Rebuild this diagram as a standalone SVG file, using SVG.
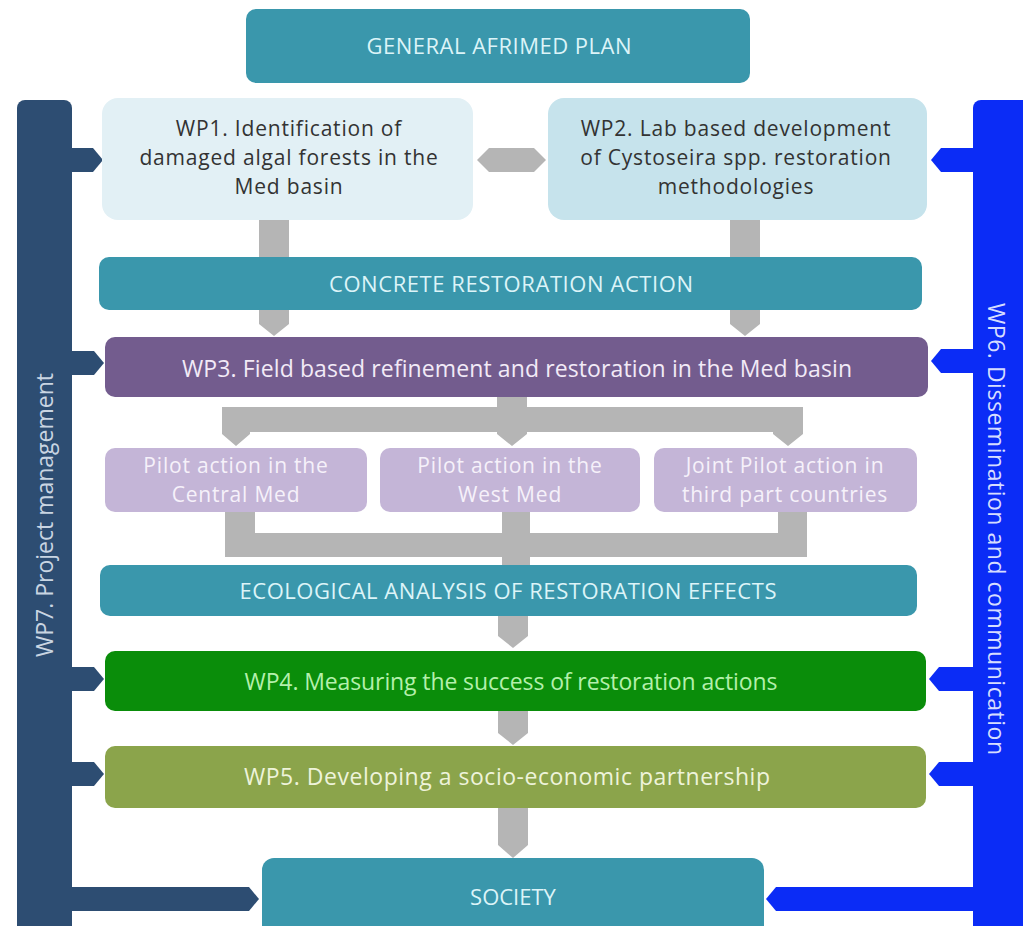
<svg xmlns="http://www.w3.org/2000/svg" width="1023" height="926" viewBox="0 0 1023 926">
<style>
text{font-family:"Open Sans","Liberation Sans",sans-serif;font-size:23px;text-anchor:middle}
.ml{font-size:21px;letter-spacing:0.8px}
.teal{fill:#3a97ac}
.tt{fill:#dcf4f8;font-size:22px}
.gray{fill:#b5b5b5}
.wp7{fill:#2d4d72}
.wp6{fill:#0b2cf6}
.pl{fill:#f6f1fa}
.dk{fill:#333333}
</style>
<rect width="1023" height="926" fill="#ffffff"/>
<g id="wp7">
<rect class="wp7" x="17" y="100" width="55" height="850" rx="8"/>
<polygon class="wp7" points="70,148 93,148 103,160 93,172 70,172"/>
<polygon class="wp7" points="70,351 94,351 104,363 94,375 70,375"/>
<polygon class="wp7" points="70,667 94,667 104,679 94,691 70,691"/>
<polygon class="wp7" points="70,762 94,762 104,774 94,786 70,786"/>
<polygon class="wp7" points="70,887 249,887 259,899 249,911 70,911"/>
<text transform="translate(53,515) rotate(-90)" fill="#c9d5e2" font-size="22" textLength="284" lengthAdjust="spacing">WP7. Project management</text>
</g>
<g id="wp6">
<rect class="wp6" x="973" y="100" width="70" height="850" rx="8"/>
<polygon class="wp6" points="975,148 941,148 931,160 941,172 975,172"/>
<polygon class="wp6" points="975,349 941,349 931,361 941,373 975,373"/>
<polygon class="wp6" points="975,667 939,667 929,679 939,691 975,691"/>
<polygon class="wp6" points="975,762 939,762 929,774 939,786 975,786"/>
<polygon class="wp6" points="975,887 776,887 766,899 776,911 975,911"/>
<text transform="translate(988,529) rotate(90)" fill="#d6ddff" font-size="22" textLength="452" lengthAdjust="spacing">WP6. Dissemination and communication</text>
</g>
<g id="connectors">
<polygon class="gray" points="477,160 489,148 534,148 546,160 534,172 489,172"/>
<rect class="gray" x="259" y="219" width="30" height="40"/>
<polygon class="gray" points="259,309 289,309 289,324 274,336 259,324"/>
<rect class="gray" x="730" y="219" width="30" height="40"/>
<polygon class="gray" points="730,309 760,309 760,324 745,336 730,324"/>
<path class="gray" d="M497,396 H527 V407 H803 V434 L788,446 L773,434 V432 H527 V434 L512,446 L497,434 V432 H250 V434 L236,446 L222,434 V407 H497 Z"/>
<path class="gray" d="M225,510 H255 V533 H502 V510 H530 V533 H778 V510 H807 V557 H530 V566 H502 V557 H225 Z"/>
<polygon class="gray" points="498,615 528,615 528,636 513,648 498,636"/>
<polygon class="gray" points="498,710 528,710 528,733 513,745 498,733"/>
<polygon class="gray" points="498,807 528,807 528,845 513,858 498,845"/>
</g>
<g id="general">
<rect class="teal" x="246" y="9" width="504" height="74" rx="10"/>
<text class="tt" x="499" y="54" textLength="265" lengthAdjust="spacing">GENERAL AFRIMED PLAN</text>
</g>
<g id="wp1">
<rect x="102" y="98" width="371" height="122" rx="16" fill="#e2f0f5"/>
<text class="ml dk" x="289" y="136">WP1. Identification of</text>
<text class="ml dk" x="289" y="165">damaged algal forests in the</text>
<text class="ml dk" x="289" y="194">Med basin</text>
</g>
<g id="wp2">
<rect x="548" y="98" width="379" height="122" rx="16" fill="#c6e3ec"/>
<text class="ml dk" x="736" y="136">WP2. Lab based development</text>
<text class="ml dk" x="736" y="165">of Cystoseira spp. restoration</text>
<text class="ml dk" x="736" y="194">methodologies</text>
</g>
<g id="concrete">
<rect class="teal" x="99" y="257" width="823" height="53" rx="10"/>
<text class="tt" x="511" y="292" textLength="364" lengthAdjust="spacing">CONCRETE RESTORATION ACTION</text>
</g>
<g id="wp3">
<rect x="105" y="337" width="823" height="60" rx="10" fill="#735c8e"/>
<text fill="#f2eaf7" x="517" y="377" textLength="670" lengthAdjust="spacing">WP3. Field based refinement and restoration in the Med basin</text>
</g>
<g id="pilot1">
<rect x="105" y="448" width="262" height="64" rx="10" fill="#c4b5d7"/>
<text class="ml pl" x="236" y="473">Pilot action in the</text>
<text class="ml pl" x="236" y="502">Central Med</text>
</g>
<g id="pilot2">
<rect x="380" y="448" width="260" height="64" rx="10" fill="#c4b5d7"/>
<text class="ml pl" x="510" y="473">Pilot action in the</text>
<text class="ml pl" x="510" y="502">West Med</text>
</g>
<g id="pilot3">
<rect x="654" y="448" width="263" height="64" rx="10" fill="#c4b5d7"/>
<text class="ml pl" x="785" y="473">Joint Pilot action in</text>
<text class="ml pl" x="785" y="502">third part countries</text>
</g>
<g id="ecological">
<rect class="teal" x="100" y="565" width="817" height="51" rx="10"/>
<text class="tt" x="508" y="599" textLength="537" lengthAdjust="spacing">ECOLOGICAL ANALYSIS OF RESTORATION EFFECTS</text>
</g>
<g id="wp4">
<rect x="105" y="651" width="821" height="60" rx="10" fill="#0a8d0a"/>
<text fill="#b4f0ac" x="511" y="690" textLength="533" lengthAdjust="spacing">WP4. Measuring the success of restoration actions</text>
</g>
<g id="wp5">
<rect x="105" y="746" width="821" height="62" rx="10" fill="#8ba44b"/>
<text fill="#eef3da" x="507" y="785" textLength="526" lengthAdjust="spacing">WP5. Developing a socio-economic partnership</text>
</g>
<g id="society">
<rect class="teal" x="262" y="858" width="502" height="80" rx="12"/>
<text class="tt" x="513" y="905">SOCIETY</text>
</g>
</svg>
